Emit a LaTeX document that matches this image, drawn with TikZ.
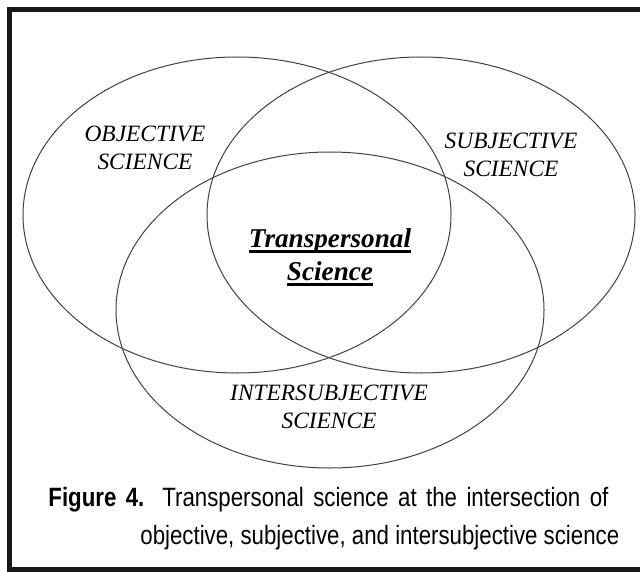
\documentclass[tikz,border=0pt]{standalone}
\usepackage{fontspec}
\setmainfont{Liberation Serif}
\newfontfamily\capfont[FakeStretch=0.84]{Liberation Sans}
\usepackage{tikz}
\usetikzlibrary{shapes.geometric}

% heavy underline, set just below the baseline
\newcommand\thickul[1]{\setbox0\hbox{#1}\leavevmode
  \rlap{\vrule width\wd0 height -1.6pt depth 2.8pt}\box0}

\tikzset{
  field/.style={
    ellipse,
    minimum width=214pt,
    minimum height=158pt,
    draw=black!75,
    line width=0.5pt
    },
  fieldlabel/.style={
    align=center,
    inner sep=0pt,
    font=\fontsize{11.7}{14}\selectfont\itshape
    },
  corelabel/.style={
    align=center,
    inner sep=0pt,
    font=\fontsize{13.6}{16.5}\selectfont\bfseries\itshape
    },
  caption/.style={
    inner sep=0pt,
    anchor=base west,
    font=\capfont\fontsize{13.25}{17}\selectfont
    },
  frame/.style={line width=2.5pt, black!90},
}

\begin{document}
\begin{tikzpicture}[x=0.5pt, y=-0.5pt]
\useasboundingbox (0,0) rectangle (640,571);

% open frame: left, top and bottom rules only
\draw[frame] (640,10) -- (9.5,10) -- (9.5,569.5) -- (640,569.5);

% the three fields
\node (obj) [field] at (237,215) {};
\node (subj) [field] at (421,215) {};
\node (inter) [field] at (330,310) {};

\node (objtext) [fieldlabel] at (145,148) {OBJECTIVE\\SCIENCE};
\node (subjtext) [fieldlabel] at (511,155) {SUBJECTIVE\\SCIENCE};
\node (intertext) [fieldlabel] at (329,407) {INTERSUBJECTIVE\\SCIENCE};

% overlap of all three
\node (core) [corelabel] at (330,257) {\thickul{Transpersonal}\\\thickul{Science}};

% justified first line, hanging second line
\node (cap1) [caption] at (48,506) {\makebox[280pt][s]{{\bfseries Figure 4.} Transpersonal science at the intersection of}};
\node (cap2) [caption] at (140,544) {objective, subjective, and intersubjective science};
\end{tikzpicture}
\end{document}
